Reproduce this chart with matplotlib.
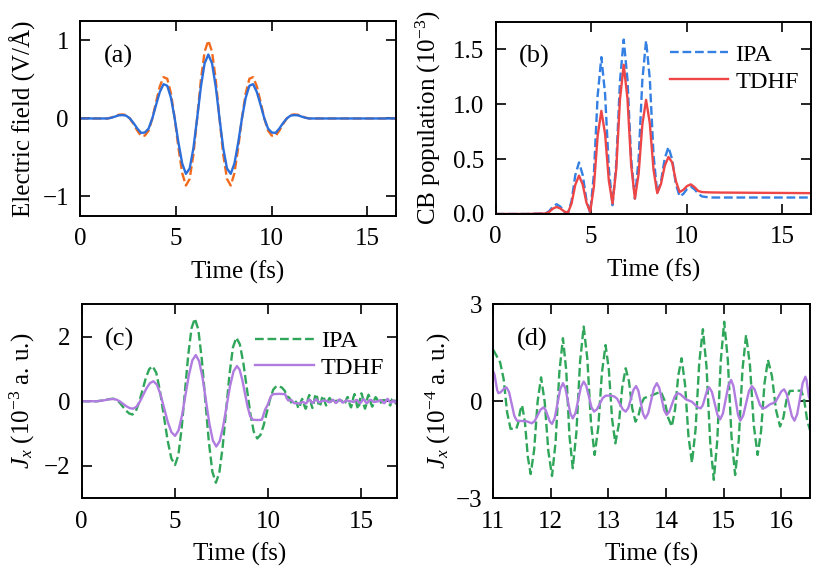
"""Four-panel figure: laser field, CB population and current J_x for a
few-cycle pulse (IPA vs TDHF).  Panel (d) zooms into the current tail."""

import matplotlib as mpl
import matplotlib.pyplot as plt
import numpy as np

mpl.rcParams.update(
    {
        "font.family": "serif",
        "font.serif": ["Liberation Serif", "DejaVu Serif"],
        "font.size": 18,
        "mathtext.fontset": "custom",
        "mathtext.rm": "Liberation Serif",
        "mathtext.it": "Liberation Serif:italic",
        "axes.linewidth": 1.4,
        "xtick.direction": "in",
        "ytick.direction": "in",
        "xtick.top": True,
        "ytick.right": True,
        "xtick.major.size": 7.5,
        "ytick.major.size": 7.5,
        "xtick.major.width": 1.2,
        "ytick.major.width": 1.2,
        "xtick.major.pad": 9,
        "ytick.major.pad": 8,
    }
)

# ---- panels (a) and (b): common time grid (fs) ----
TIME_AB = [0.0, 1.435, 1.63, 1.825, 2.02, 2.215, 2.41, 2.605, 2.80, 2.995,
           3.19, 3.385, 3.58, 3.775, 3.97, 4.165, 4.36, 4.555, 4.75, 4.945,
           5.14, 5.335, 5.53, 5.725, 5.92, 6.115, 6.31, 6.505, 6.70, 6.895,
           7.09, 7.285, 7.48, 7.675, 7.87, 8.065, 8.26, 8.455, 8.65, 8.845,
           9.04, 9.235, 9.43, 9.625, 9.82, 10.015, 10.21, 10.405, 10.60,
           10.795, 10.99, 11.185, 11.38, 11.575, 11.77, 11.965, 16.5]

# electric field (V/A), dashed orange and solid blue
FIELD_DASHED = [0.0, 0.0, 0.011, 0.029, 0.048, 0.052, 0.044, 0.0, -0.073,
                -0.157, -0.225, -0.22, -0.157, 0.0, 0.21, 0.41, 0.53, 0.51,
                0.32, 0.0, -0.375, -0.70, -0.86, -0.775, -0.465, 0.0, 0.49,
                0.855, 1.0, 0.855, 0.49, 0.0, -0.465, -0.775, -0.86, -0.70,
                -0.375, 0.0, 0.32, 0.51, 0.53, 0.41, 0.21, 0.0, -0.157, -0.22,
                -0.225, -0.157, -0.073, 0.0, 0.044, 0.052, 0.048, 0.029,
                0.011, 0.0, 0.0]
FIELD_SOLID = [0.0, 0.0, 0.009, 0.024, 0.04, 0.043, 0.036, 0.0, -0.06, -0.13,
               -0.185, -0.18, -0.13, 0.0, 0.173, 0.338, 0.44, 0.42, 0.265,
               0.0, -0.31, -0.576, -0.71, -0.641, -0.383, 0.0, 0.403, 0.706,
               0.82, 0.706, 0.403, 0.0, -0.383, -0.641, -0.71, -0.576, -0.31,
               0.0, 0.265, 0.42, 0.44, 0.338, 0.173, 0.0, -0.13, -0.18,
               -0.185, -0.13, -0.06, 0.0, 0.036, 0.043, 0.04, 0.024, 0.009,
               0.0, 0.0]

# CB population (1e-3)
POP_IPA = [0.0, 0.0, 0.0, 0.001, 0.002, 0.003, 0.004, 0.005, 0.026, 0.068,
           0.089, 0.067, 0.022, 0.0, 0.118, 0.353, 0.47, 0.355, 0.125, 0.01,
           0.365, 1.075, 1.43, 1.093, 0.418, 0.08, 0.458, 1.213, 1.59, 1.228,
           0.503, 0.14, 0.50, 1.22, 1.58, 1.233, 0.538, 0.19, 0.295, 0.505,
           0.61, 0.498, 0.273, 0.16, 0.183, 0.228, 0.25, 0.225, 0.185, 0.16,
           0.155, 0.152, 0.15, 0.15, 0.15, 0.15, 0.15]
POP_TDHF = [0.0, 0.0, 0.0, 0.001, 0.002, 0.003, 0.004, 0.004, 0.019, 0.049,
            0.064, 0.05, 0.024, 0.01, 0.095, 0.265, 0.35, 0.268, 0.103, 0.02,
            0.25, 0.71, 0.94, 0.729, 0.306, 0.095, 0.411, 1.044, 1.36, 1.055,
            0.445, 0.14, 0.365, 0.815, 1.04, 0.828, 0.403, 0.19, 0.273, 0.438,
            0.52, 0.47, 0.30, 0.20, 0.22, 0.255, 0.27, 0.245, 0.21, 0.20,
            0.198, 0.197, 0.196, 0.196, 0.195, 0.195, 0.19]

# ---- panel (c): J_x (1e-3 a.u.) up to 11 fs ----
TIME_C_IPA = [0.0, 0.8, 1.2, 1.45, 1.70, 1.87, 2.04, 2.21, 2.38, 2.55, 2.72,
              2.90, 3.08, 3.26, 3.44, 3.62, 3.80, 4.00, 4.20, 4.405, 4.61,
              4.81, 5.01, 5.187, 5.363, 5.54, 5.717, 5.893, 6.07, 6.258,
              6.447, 6.635, 6.823, 7.012, 7.20, 7.383, 7.567, 7.75, 7.933,
              8.117, 8.30, 8.487, 8.673, 8.86, 9.047, 9.233, 9.42, 9.592,
              9.763, 9.935, 10.107, 10.278, 10.45, 10.6, 10.75, 10.9]
JX_IPA_C = [0.0, 0.0, 0.03, 0.065, 0.08, 0.047, -0.043, -0.165, -0.288,
            -0.377, -0.41, -0.31, -0.035, 0.34, 0.715, 0.99, 1.09, 0.885,
            0.325, -0.44, -1.205, -1.765, -1.97, -1.667, -0.838, 0.295,
            1.428, 2.257, 2.56, 2.22, 1.29, 0.02, -1.25, -2.18, -2.52,
            -2.219, -1.398, -0.275, 0.848, 1.669, 1.97, 1.761, 1.19, 0.41,
            -0.37, -0.941, -1.15, -1.042, -0.745, -0.34, 0.065, 0.361, 0.47,
            0.46, 0.42, 0.32]
TIME_C_TDHF = [0.0, 0.8, 1.2, 1.45, 1.70, 1.875, 2.05, 2.225, 2.40, 2.575,
               2.75, 2.933, 3.117, 3.30, 3.483, 3.667, 3.85, 4.043, 4.237,
               4.43, 4.623, 4.817, 5.01, 5.195, 5.38, 5.565, 5.75, 5.935,
               6.12, 6.303, 6.487, 6.67, 6.853, 7.037, 7.22, 7.405, 7.59,
               7.775, 7.96, 8.145, 8.33, 8.472, 8.613, 8.755, 8.897, 9.038,
               9.18, 9.45, 9.67, 9.84, 9.97, 10.05, 10.15, 10.26, 10.6, 10.92]
JX_TDHF_C = [0.0, 0.0, 0.03, 0.06, 0.07, 0.05, -0.005, -0.08, -0.155, -0.21,
             -0.23, -0.173, -0.018, 0.195, 0.408, 0.563, 0.62, 0.507, 0.198,
             -0.225, -0.648, -0.957, -1.07, -0.903, -0.445, 0.18, 0.805,
             1.263, 1.43, 1.24, 0.723, 0.015, -0.693, -1.21, -1.40, -1.233,
             -0.778, -0.155, 0.468, 0.923, 1.09, 0.979, 0.675, 0.26, -0.155,
             -0.459, -0.57, -0.58, -0.57, -0.26, -0.12, 0.0, 0.15, 0.22,
             0.23, 0.22]

# ---- panel (d): J_x tail (1e-4 a.u.), columns = time (fs), value ----
JX_IPA_D = np.array([
    [11.00, 1.59], [11.12, 1.20], [11.18, 0.69], [11.24, -0.34],
    [11.30, -0.85], [11.40, -0.85], [11.433, -0.67], [11.467, -0.30],
    [11.50, -0.12], [11.55, -0.65], [11.60, -1.72], [11.65, -2.25],
    [11.71, -1.50], [11.77, -0.01], [11.83, 0.74], [11.893, -0.02],
    [11.957, -1.55], [12.02, -2.31], [12.083, -1.25], [12.147, 0.89],
    [12.21, 1.95], [12.267, 0.95], [12.323, -1.07], [12.38, -2.07],
    [12.443, -0.98], [12.507, 1.22], [12.57, 2.31], [12.633, 1.32],
    [12.697, -0.67], [12.76, -1.66], [12.823, -0.81], [12.887, 0.89],
    [12.95, 1.74], [13.007, 0.98], [13.063, -0.54], [13.12, -1.30],
    [13.18, -0.72], [13.24, 0.44], [13.30, 1.02], [13.357, 0.61],
    [13.413, -0.22], [13.47, -0.63], [13.52, -0.45], [13.57, -0.08],
    [13.62, 0.10], [13.75, 0.18], [13.91, 0.30], [13.973, 0.03],
    [14.037, -0.51], [14.10, -0.78], [14.157, -0.25], [14.213, 0.80],
    [14.27, 1.33], [14.33, 0.52], [14.39, -1.09], [14.45, -1.90],
    [14.513, -0.87], [14.577, 1.20], [14.64, 2.23], [14.703, 1.07],
    [14.767, -1.27], [14.83, -2.43], [14.89, -1.21], [14.95, 1.24],
    [15.01, 2.46], [15.073, 1.28], [15.137, -1.10], [15.20, -2.28],
    [15.263, -1.20], [15.327, 0.97], [15.39, 2.05], [15.457, 1.12],
    [15.523, -0.73], [15.59, -1.66], [15.65, -0.93], [15.71, 0.55],
    [15.77, 1.28], [15.84, 0.77], [15.91, -0.27], [15.98, -0.78],
    [16.037, -0.51], [16.093, 0.05], [16.15, 0.32], [16.35, 0.33],
    [16.40, 0.03], [16.45, -0.58], [16.50, -0.89], [16.56, -1.30],
    [16.65, 0.60], [16.74, 1.10], [16.83, -0.40], [16.92, -1.00],
    [17.00, 0.20],
])
JX_TDHF_D = np.array([
    [11.00, 0.92], [11.0225, 0.82], [11.045, 0.585], [11.0675, 0.35],
    [11.09, 0.25], [11.125, 0.276], [11.16, 0.34], [11.195, 0.404],
    [11.23, 0.43], [11.275, 0.28], [11.32, -0.085], [11.365, -0.45],
    [11.41, -0.60], [11.58, -0.62], [11.67, -0.68], [11.72, -0.608],
    [11.77, -0.435], [11.82, -0.262], [11.87, -0.19], [11.9075, -0.264],
    [11.945, -0.445], [11.9825, -0.626], [12.02, -0.70], [12.0675, -0.516],
    [12.115, -0.07], [12.1625, 0.376], [12.21, 0.56], [12.2525, 0.40],
    [12.295, 0.015], [12.3375, -0.37], [12.38, -0.53], [12.4275, -0.364],
    [12.475, 0.04], [12.5225, 0.444], [12.57, 0.61], [12.615, 0.474],
    [12.66, 0.145], [12.705, -0.184], [12.75, -0.32], [12.80, -0.248],
    [12.85, -0.075], [12.90, 0.098], [12.95, 0.17], [13.025, 0.18],
    [13.10, 0.15], [13.15, 0.081], [13.20, -0.085], [13.25, -0.251],
    [13.30, -0.32], [13.345, -0.205], [13.39, 0.075], [13.435, 0.355],
    [13.48, 0.47], [13.52, 0.324], [13.56, -0.03], [13.60, -0.384],
    [13.64, -0.53], [13.69, -0.371], [13.74, 0.015], [13.79, 0.40],
    [13.84, 0.56], [13.8825, 0.417], [13.925, 0.07], [13.9675, -0.277],
    [14.01, -0.42], [14.0575, -0.322], [14.105, -0.085], [14.1525, 0.152],
    [14.20, 0.25], [14.25, 0.216], [14.30, 0.135], [14.35, 0.054],
    [14.40, 0.02], [14.45, -0.015], [14.50, -0.10], [14.55, -0.185],
    [14.60, -0.22], [14.6375, -0.125], [14.675, 0.105], [14.7125, 0.335],
    [14.75, 0.43], [14.7975, 0.285], [14.845, -0.065], [14.8925, -0.415],
    [14.94, -0.56], [14.9875, -0.382], [15.035, 0.05], [15.0825, 0.482],
    [15.13, 0.66], [15.17, 0.476], [15.21, 0.03], [15.25, -0.416],
    [15.29, -0.60], [15.34, -0.444], [15.39, -0.065], [15.44, 0.314],
    [15.49, 0.47], [15.5375, 0.369], [15.585, 0.125], [15.6325, -0.119],
    [15.68, -0.22], [15.725, -0.197], [15.77, -0.14], [15.815, -0.083],
    [15.86, -0.06], [15.9075, 0.003], [15.955, 0.155], [16.0025, 0.307],
    [16.05, 0.37], [16.095, 0.228], [16.14, -0.115], [16.185, -0.458],
    [16.23, -0.60], [16.2775, -0.401], [16.325, 0.08], [16.3725, 0.561],
    [16.42, 0.76], [16.44, 0.655], [16.46, 0.40], [16.48, 0.145],
    [16.50, 0.04], [16.60, -0.50], [16.70, 0.30], [16.80, -0.40],
    [16.90, 0.20], [17.00, 0.0],
])
D_TO_C = 0.1  # 1e-4 a.u. -> 1e-3 a.u.

ORANGE = "#F26B1D"
BLUE = "#2C6FDB"
BLUE_IPA = "#3480E3"
RED = "#EE4646"
GREEN = "#2FA65A"
PURPLE = "#B07CE0"
LW = 1.7


def _style(ax, xlim, ylim, xticks, yticks, tag, ylabel, ylabel_x):
    ax.set_xlim(*xlim)
    ax.set_ylim(*ylim)
    ax.set_xticks(xticks)
    ax.set_yticks(yticks)
    ax.set_xlabel("Time (fs)", labelpad=7)
    ax.set_ylabel(ylabel)
    ax.yaxis.set_label_coords(ylabel_x, 0.5)
    ax.text(0.075, 0.82, tag, transform=ax.transAxes, ha="left", va="center",
            fontsize=19)


def _legend(ax, anchor):
    ax.legend(
        loc="upper right",
        bbox_to_anchor=anchor,
        frameon=False,
        fontsize=17.5,
        handlelength=2.4,
        handletextpad=0.3,
        labelspacing=0.2,
        borderaxespad=0.1,
    )


def main():
    fig = plt.figure(figsize=(8.3, 5.7), dpi=100)
    ax_a = fig.add_axes([0.0964, 0.6211, 0.3807, 0.3421])
    ax_b = fig.add_axes([0.5972, 0.6246, 0.3799, 0.3368])
    ax_c = fig.add_axes([0.0984, 0.1258, 0.3795, 0.3404])
    ax_d = fig.add_axes([0.5943, 0.1258, 0.3816, 0.3404])

    # (a) field
    ax_a.plot(TIME_AB, FIELD_DASHED, color=ORANGE, lw=LW, ls="--")
    ax_a.plot(TIME_AB, FIELD_SOLID, color=BLUE, lw=LW)
    _style(ax_a, (0, 16.5), (-1.25, 1.25), [0, 5, 10, 15], [-1, 0, 1],
           "(a)", "Electric field (V/Å)", -0.14)

    # (b) population
    ax_b.plot(TIME_AB, POP_IPA, color=BLUE_IPA, lw=LW, ls="--", label="IPA")
    ax_b.plot(TIME_AB, POP_TDHF, color=RED, lw=LW, label="TDHF")
    _style(ax_b, (0, 16.5), (0, 1.75), [0, 5, 10, 15], [0, 0.5, 1.0, 1.5],
           "(b)", "CB population (10$^{-3}$)", -0.167)
    ax_b.yaxis.set_major_formatter(mpl.ticker.FormatStrFormatter("%.1f"))
    _legend(ax_b, (1.0, 0.95))

    # (c) current, full window; tail shares the panel (d) samples
    t_ipa = np.concatenate([TIME_C_IPA, JX_IPA_D[:, 0]])
    j_ipa = np.concatenate([JX_IPA_C, JX_IPA_D[:, 1] * D_TO_C])
    t_tdhf = np.concatenate([TIME_C_TDHF, JX_TDHF_D[:, 0]])
    j_tdhf = np.concatenate([JX_TDHF_C, JX_TDHF_D[:, 1] * D_TO_C])
    ax_c.plot(t_ipa, j_ipa, color=GREEN, lw=LW, ls="--", label="IPA")
    ax_c.plot(t_tdhf, j_tdhf, color=PURPLE, lw=LW, label="TDHF")
    _style(ax_c, (0, 16.9), (-3, 3), [0, 5, 10, 15], [-2, 0, 2],
           "(c)", "$J_x$ (10$^{-3}$ a. u.)", -0.142)
    _legend(ax_c, (1.0, 0.93))

    # (d) current tail
    ax_d.plot(JX_IPA_D[:, 0], JX_IPA_D[:, 1], color=GREEN, lw=LW, ls="--")
    ax_d.plot(JX_TDHF_D[:, 0], JX_TDHF_D[:, 1], color=PURPLE, lw=LW)
    _style(ax_d, (11, 16.5), (-3, 3), [11, 12, 13, 14, 15, 16], [-3, 0, 3],
           "(d)", "$J_x$ (10$^{-4}$ a. u.)", -0.127)

    fig.savefig("out.png", dpi=100)


if __name__ == "__main__":
    main()
